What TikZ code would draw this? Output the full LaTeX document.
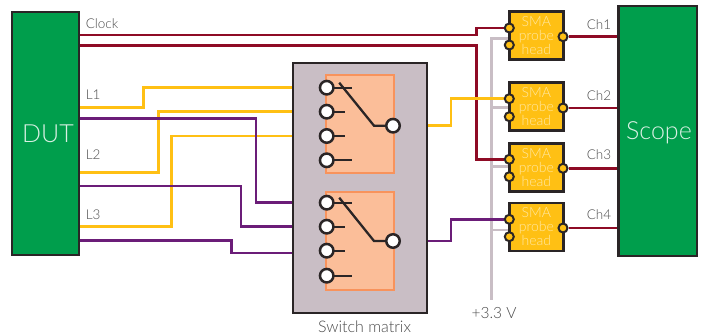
\documentclass[tikz,border=0pt]{standalone}
\usepackage{fontspec}
\usepackage{xcolor}
\setmainfont[UprightFont={* Light}]{Lato}
\usetikzlibrary{positioning}
\usetikzlibrary{backgrounds}
\usetikzlibrary{calc}
\definecolor{blockgreen}{HTML}{009E4C}
\definecolor{blockline}{HTML}{2A2526}
\definecolor{matrixgrey}{HTML}{C9BEC5}
\definecolor{relayfill}{HTML}{FBBE99}
\definecolor{relayline}{HTML}{F8935C}
\definecolor{probefill}{HTML}{FFC014}
\definecolor{probetext}{HTML}{FFE9A6}
\definecolor{wirered}{HTML}{8E0B25}
\definecolor{wirepurple}{HTML}{6B1D78}
\definecolor{labelgrey}{HTML}{4A4A4A}

\begin{document}
\begin{tikzpicture}[x=1pt,
        y=-1pt,
        block/.style={
        draw=blockline,
        fill=blockgreen,
        line width=2.5pt,
        text=white,
        inner sep=0pt,
        font=\fontsize{25}{25}\selectfont},
        relay/.style={
        draw=relayline,
        fill=relayfill,
        line width=2.2pt,
        minimum width=68pt,
        minimum height=98pt},
        probe/.style={
        draw=blockline,
        fill=probefill,
        line width=2.3pt,
        text=probetext,
        minimum width=54pt,
        minimum height=48pt,
        inner sep=0pt,
        align=center,
        font=\fontsize{14}{14}\selectfont},
        pin/.style={
        circle,
        draw=blockline,
        fill=white,
        line width=2.5pt,
        minimum size=13.5pt,
        inner sep=0pt},
        probepin/.style={
        pin,
        fill=probefill,
        line width=2pt,
        minimum size=9pt},
        wire/.style={line width=2.8pt},
        contact/.style={draw=blockline, line width=2.3pt},
        tag/.style={text=labelgrey, inner sep=0pt, font=\fontsize{13.5}{14}\selectfont}]

        \useasboundingbox (0,0) rectangle (705,335);

        \node[block, minimum width=67pt, minimum height=243pt] (dut) at (45.5,133.5) {};
        \node[text=white!85!blockgreen, font=\fontsize{25}{25}\selectfont] (dutname) at (48,133.5) {DUT};
        \node[block, minimum width=78.5pt, minimum height=250pt] (scope) at (657.75,131) {};
        \node[text=white!85!blockgreen, font=\fontsize{25}{25}\selectfont] (scopename) at (659,133) {Scope};
        \node[draw=blockline, fill=matrixgrey, line width=2.5pt, minimum width=134pt, minimum height=250pt] (matrix) at (360,188) {};

        % relays
        \foreach \r/\yc/\ya/\yb/\yd/\ye/\yo in {1/124/87.7/111.7/136/160.3/125.7, 2/241/202.7/226.7/250.7/275.7/241} {
            \node[relay] (relay\r) at (360,\yc) {};
            \node[pin] (sw\r a) at (326.7,\ya) {};
            \node[pin] (sw\r b) at (326.7,\yb) {};
            \node[pin] (sw\r c) at (326.7,\yd) {};
            \node[pin] (sw\r d) at (326.7,\ye) {};
            \node[pin] (sw\r o) at (393,\yo) {};
            \coordinate (arm\r) at ($(sw\r o)+(-19,0)$);
            \coordinate (tip\r) at ($(sw\r a)+(12.5,-5)$);
            \draw[contact] (sw\r a) ++(7,0) -- ++(18.5,0);
            \draw[contact] (sw\r b) ++(7,0) -- ++(11.5,0);
            \draw[contact] (sw\r c) ++(7,0) -- ++(11.5,0);
            \draw[contact] (sw\r d) ++(7,0) -- ++(18.5,0);
            \draw[contact] (tip\r) -- (arm\r) -- (sw\r o);
        }

        % probe heads
        \foreach \p/\yc/\ya/\yb/\yo in {1/35.5/28/45/36.7, 2/106.5/98.7/116.7/108, 3/167.5/159.3/176.7/168.3, 4/227/219.3/236.7/228} {
            \node[probe] (sma\p) at (536.4,\yc) {SMA\\[0pt]probe\\[0pt]head};
            \node[probepin] (sma\p a) at (509.3,\ya) {};
            \node[probepin] (sma\p b) at (509.3,\yb) {};
            \node[probepin] (sma\p o) at (563,\yo) {};
        }

        \coordinate (railtop) at (491.3,38.5);
        \coordinate (railend) at (491.3,300);
        \foreach \n/\y in {clka/35,clkb/45.3,la/107.7,lb/172.3,lc/226.7,pa/118.7,pb/186,pc/240.7}
            \coordinate (dut\n) at (dut.east |- 0,\y);

        \begin{scope}[on background layer]
        \draw[wire, matrixgrey] (sma1.west |- railtop) -- (railtop) -- (railend);
        \draw[wire, matrixgrey] (railtop |- 0,107.7) -- (sma2.west |- 0,107.7);
        \draw[wire, matrixgrey] (railtop |- 0,166.7) -- (sma3.west |- 0,166.7);
        \draw[wire, matrixgrey] (railtop |- 0,230) -- (sma4.west |- 0,230);

        \draw[wire, wirered] (dutclka) -- (476.7,35) |- (sma1a);
        \draw[wire, wirered] (dutclkb) -- (476.7,45.3) |- (sma3a);
        \foreach \p in {1,2,3,4}
            \draw[wire, wirered] (sma\p o) -- (scope.west |- sma\p o);

        \draw[wire, probefill] (dutla) -- (143.3,107.7) |- (matrix.west |- sw1a);
        \draw[wire, probefill] (dutlb) -- (158.7,172.3) |- (matrix.west |- sw1b);
        \draw[wire, probefill] (dutlc) -- (171.7,226.7) |- (matrix.west |- sw1c);
        \draw[wire, probefill] (matrix.east |- sw1o) -- (451,125.7) |- (sma2a);

        \draw[wire, wirepurple] (dutpa) -- (256,118.7) |- (matrix.west |- sw2a);
        \draw[wire, wirepurple] (dutpb) -- (241,186) |- (matrix.west |- sw2b);
        \draw[wire, wirepurple] (dutpc) -- (231.3,240.7) |- (matrix.west |- 0,253);
        \draw[wire, wirepurple] (matrix.east |- sw2o) -- (451,241) |- (sma4a);
        \end{scope}

        \node[tag, anchor=west] (clocktag) at (85.6,24) {Clock};
        \node[tag, anchor=west] (l1tag) at (85.6,94.5) {L1};
        \node[tag, anchor=west] (l2tag) at (85.6,155) {L2};
        \node[tag, anchor=west] (l3tag) at (85.6,215) {L3};
        \foreach \p/\y in {1/25,2/96,3/155,4/215}
            \node[tag] (ch\p) at (599,\y) {Ch\p};
        \node[tag, font=\fontsize{15.5}{16}\selectfont] (railtag) at (494,313) {+3.3 V};
        \node[tag, font=\fontsize{16}{16}\selectfont] (matrixtag) at (364.5,326.5) {Switch matrix};
\end{tikzpicture}
\end{document}
